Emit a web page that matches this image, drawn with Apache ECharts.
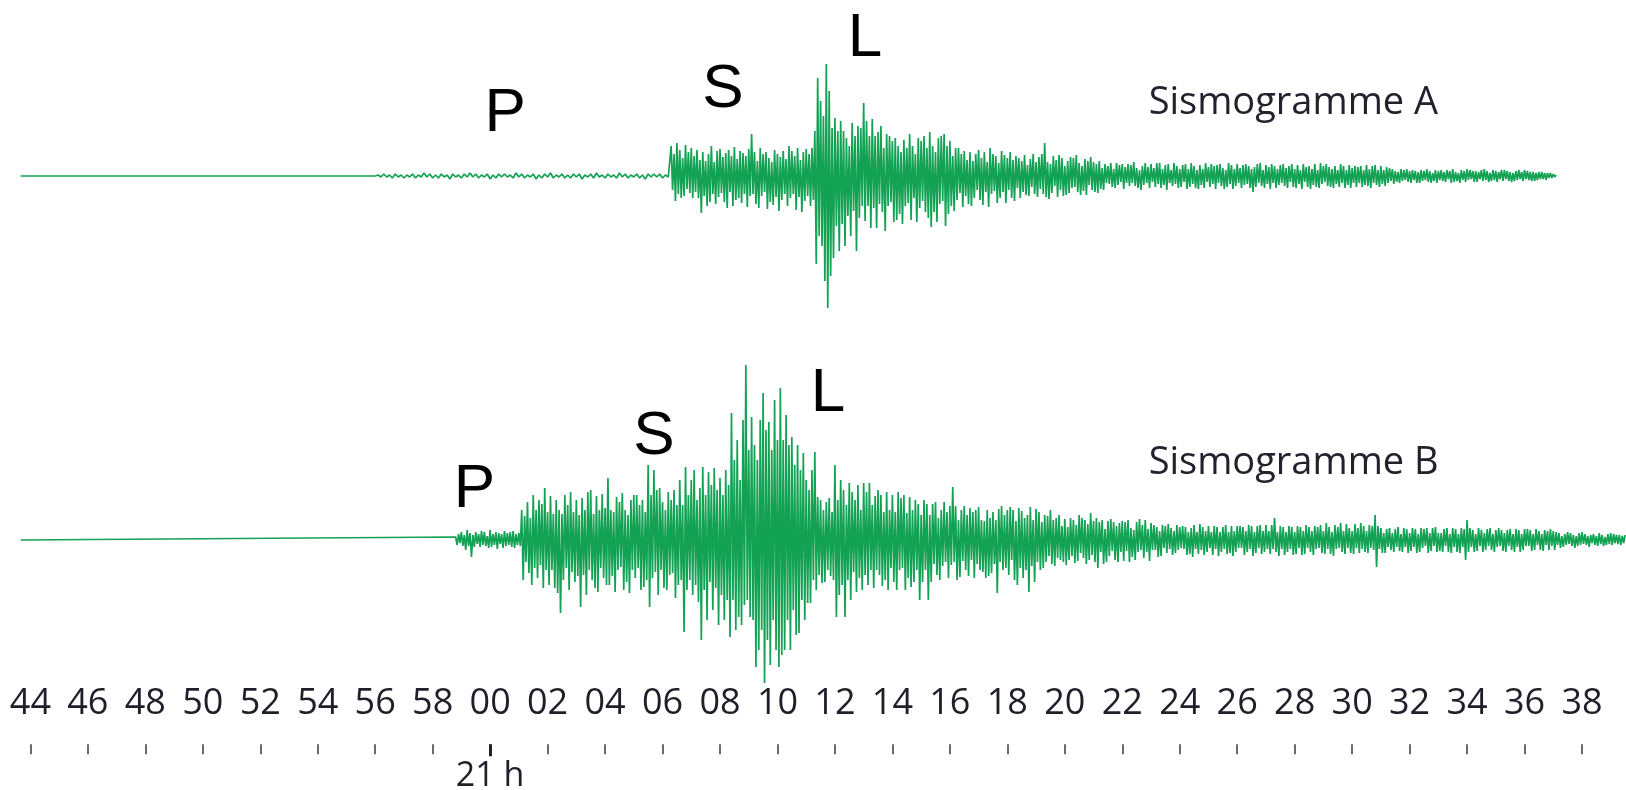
<!DOCTYPE html>
<html>
<head>
<meta charset="utf-8">
<script src="https://cdn.jsdelivr.net/npm/echarts@6/dist/echarts.min.js"></script>
<style>
html,body{margin:0;padding:0;background:#fff;}
#chart{width:1626px;height:790px;}
</style>
</head>
<body>
<div id="chart"></div>
<script>
// ---------- DATA (time in minutes after 20:00; 60 = 21 h 00) ----------
const tickStart = 44, tickEnd = 98, tickStep = 2;        // axis ticks 44 ... 38
const viewStart = 43.5, viewEnd = 99.5;                   // visible time span of the traces
const traceStart = 43.66;                                 // both traces start flat here

// Sismogramme A
const aNoiseStart = 56.0, aNoiseStep = 0.1;               // faint P arrival noise
const aNoise = [
  0,1,-1,2,-1,1,-2,2,-1,1,
  -2,1,-1,2,-2,1,-1,3,-1,2,
  -2,1,-2,2,-1,1,-3,2,-1,1,
  -2,2,-1,3,-1,2,-2,1,-1,2,
  -3,1,-2,2,-1,2,-1,1,-2,3,
  -1,2,-2,1,-1,2,-3,1,-2,2,
  -1,3,-2,1,-1,2,-2,1,-2,2,
  -1,2,-3,1,-1,2,-2,3,-1,1,
  -2,2,-1,1,-2,3,-1,2,-2,1,
  -1,2,-2,1,-3,2,-1,2,-1,2,
  -2,1,-1
];
const aBurstStart = 66.3, aBurstStep = 0.05;              // S and L waves
const aBurst = [
  30,-14,22,-25,33,-18,26,-22,18,-20,31,-13,24,-17,28,-22,20,-16,26,-22,
  16,-37,24,-20,15,-30,22,-26,30,-18,14,-28,25,-21,27,-17,19,-26,23,-32,
  26,-16,20,-30,29,-24,17,-22,25,-27,23,-18,20,-31,27,-20,42,-18,24,-28,
  15,-32,28,-20,22,-16,24,-33,18,-26,14,-29,26,-21,22,-35,19,-24,25,-18,
  17,-30,30,-22,25,-18,20,-34,28,-21,16,-36,24,-25,27,-20,22,-30,28,-24,
  45,-88,98,-60,75,-70,60,-105,112,-132,85,-100,48,-82,58,-50,45,-75,55,-48,
  45,-70,38,-40,30,-60,53,-35,40,-75,50,-42,48,-30,73,-45,55,-30,40,-52,
  57,-32,40,-52,44,-28,50,-36,28,-55,42,-30,40,-26,35,-46,38,-44,30,-38,
  24,-48,36,-30,28,-27,42,-44,30,-22,22,-46,38,-32,35,-25,40,-36,28,-42,
  44,-51,30,-36,24,-46,38,-28,40,-25,42,-50,30,-38,35,-30,20,-35,28,-24,
  28,-17,22,-31,25,-20,16,-28,24,-30,15,-22,22,-14,26,-24,18,-29,24,-16,
  14,-31,28,-18,22,-15,20,-27,13,-22,25,-16,21,-27,18,-14,24,-22,16,-25,
  20,-12,18,-22,15,-16,21,-19,11,-20,17,-11,22,-18,14,-21,19,-13,22,-18,
  33,-21,14,-23,12,-17,20,-10,16,-21,21,-14,18,-20,10,-19,15,-17,19,-12,
  18,-11,21,-16,13,-19,10,-15,17,-19,15,-9,19,-14,14,-16,12,-17,15,-13
];
const aTailStart = 81.3, aTailStep = 0.05;                // coda
const aTail = [
  8,-14,12,-7,10,-8,13,-11,7,-12,13,-9,11,-6,12,-13,9,-7,12,-10,
  11,-7,14,-10,8,-12,6,-14,10,-9,13,-7,9,-12,12,-6,8,-11,13,-8,
  13,-12,7,-9,11,-14,12,-7,6,-10,13,-8,10,-12,7,-11,11,-6,12,-13,
  7,-11,13,-8,10,-12,6,-13,11,-9,7,-12,13,-6,9,-11,12,-8,10,-13,
  11,-7,12,-10,8,-13,6,-11,13,-8,11,-13,7,-10,12,-7,8,-12,11,-9,
  12,-8,10,-12,7,-16,9,-11,12,-7,13,-10,6,-12,11,-8,9,-13,12,-7,
  10,-12,7,-9,11,-7,12,-10,8,-12,10,-6,12,-11,7,-12,11,-8,6,-13,
  12,-6,9,-11,10,-13,7,-9,12,-11,6,-12,13,-8,10,-6,12,-10,9,-11,
  7,-12,10,-8,6,-11,12,-7,10,-12,6,-9,11,-12,8,-7,10,-11,9,-7,
  10,-11,6,-9,11,-10,7,-12,10,-7,11,-9,6,-11,10,-8,6,-10,9,-7,
  8,-5,7,-8,5,-6,4,-7,7,-5,6,-4,7,-6,5,-7,6,-4,5,-7,
  4,-7,6,-5,5,-4,7,-6,5,-7,3,-5,6,-7,5,-4,6,-5,4,-6,
  6,-3,5,-7,7,-6,4,-5,3,-7,6,-4,5,-6,7,-4,6,-3,5,-6,
  5,-6,4,-3,6,-5,7,-4,5,-6,3,-5,6,-4,5,-6,4,-3,6,-5,
  6,-3,5,-5,4,-6,3,-5,5,-4,6,-3,4,-5,6,-3,5,-4,4,-5,
  4,-5,3,-4,4,-3,4,-3,3,-4,3,-2,3,-2,2,-1,1
];

// Sismogramme B
const bNoiseStart = 58.8, bNoiseStep = 0.05;              // P arrival
const bNoise = [
  3,-5,6,-3,8,-6,5,-10,10,-6,7,-17,5,-7,8,-4,6,-7,9,-5,
  8,-6,4,-8,10,-7,6,-5,8,-9,7,-4,6,-8,9,-6,7,-5,8,-7,
  9,-8,6,-5,7,-6
];
const bBurstStart = 61.1, bBurstStep = 0.05;              // S and L waves
const bBurst = [
  30,-40,24,-22,38,-33,22,-45,45,-28,30,-38,40,-25,36,-48,52,-30,28,-45,
  44,-30,26,-48,40,-53,30,-73,26,-40,45,-28,35,-50,48,-32,28,-42,40,-36,
  25,-67,42,-35,30,-55,48,-30,50,-40,26,-48,44,-52,30,-28,46,-38,32,-45,
  62,-45,30,-36,28,-52,43,-30,38,-27,47,-50,30,-42,25,-53,40,-30,45,-38,
  45,-28,35,-50,40,-47,28,-40,75,-67,45,-38,70,-32,50,-55,52,-30,38,-48,
  30,-50,48,-35,40,-33,50,-58,35,-45,60,-40,35,-92,73,-50,45,-40,60,-55,
  70,-45,40,-62,52,-100,73,-50,45,-80,68,-42,55,-70,72,-48,50,-85,62,-55,
  45,-80,70,-60,55,-97,127,-60,80,-90,100,-77,60,-85,120,-65,175,-60,90,-77,
  123,-80,95,-127,80,-110,120,-90,147,-143,110,-100,118,-125,90,-80,140,-110,100,-127,
  152,-115,100,-110,125,-80,95,-110,103,-70,75,-95,95,-93,70,-60,87,-80,60,-63,
  50,-63,70,-40,88,-50,43,-35,40,-43,30,-42,38,-30,42,-36,28,-40,75,-77,
  40,-55,60,-45,50,-77,35,-40,57,-60,48,-32,40,-52,55,-38,30,-50,57,-35,
  48,-45,57,-30,35,-48,44,-30,50,-35,45,-46,28,-40,48,-50,30,-28,45,-42,
  28,-50,48,-30,42,-28,45,-50,27,-38,43,-47,30,-42,40,-30,36,-60,25,-42,
  40,-30,36,-60,25,-42,36,-24,38,-35,22,-40,30,-26,38,-22,28,-38,34,-25,
  53,-22,34,-40,20,-37,30,-21,34,-30,25,-36,32,-20,28,-38,30,-24,33,-30,
  20,-32,19,-38,30,-36,22,-33,28,-24,20,-53,31,-22,34,-30,25,-28,30,-35,
  33,-20,30,-40,19,-45,32,-28,29,-38,22,-30,25,-52,33,-26,20,-42,31,-22,
  28,-30,18,-28,25,-22,24,-16,30,-24,20,-26,22,-18,25,-20,14,-22,21,-25,
  13,-20,22,-16,20,-23,15,-21,25,-13,22,-18,20,-24,16,-20,27,-15,19,-22,
  22,-28,18,-12,20,-24,11,-22,19,-16,21,-11,18,-20,14,-22,17,-12,19,-21
];
const bTailStart = 82.1, bTailStep = 0.05;                // coda
const bTail = [
  18,-11,20,-22,12,-17,10,-20,18,-12,21,-10,15,-18,20,-12,11,-21,17,-10,
  15,-10,13,-17,9,-16,15,-8,14,-13,16,-9,12,-15,9,-13,15,-10,13,-8,
  14,-9,13,-15,8,-14,12,-17,15,-9,8,-14,16,-10,13,-15,9,-12,14,-8,
  8,-15,14,-9,13,-16,8,-12,13,-9,15,-14,8,-13,14,-16,9,-12,14,-8,
  14,-8,13,-15,9,-12,15,-9,14,-16,8,-13,14,-8,15,-14,9,-12,15,-9,
  9,-14,15,-9,22,-12,8,-16,14,-9,13,-15,8,-12,14,-9,13,-15,8,-14,
  14,-8,13,-15,9,-14,15,-8,13,-12,9,-15,14,-9,13,-8,15,-13,9,-14,
  17,-9,13,-14,8,-16,15,-9,13,-8,17,-12,9,-14,16,-8,12,-13,9,-14,
  16,-8,12,-13,17,-9,14,-12,9,-13,15,-8,14,-10,25,-27,14,-9,12,-13,
  7,-13,11,-7,12,-10,7,-12,11,-7,13,-11,6,-12,12,-7,11,-13,7,-11,
  12,-7,11,-13,6,-12,12,-8,11,-6,12,-13,7,-11,12,-6,13,-12,7,-11,
  7,-12,11,-6,12,-12,6,-13,12,-7,11,-12,6,-13,12,-7,11,-20,20,-12,
  12,-7,10,-12,6,-11,12,-6,10,-12,7,-10,11,-6,12,-10,6,-12,10,-7,
  12,-6,10,-11,7,-12,10,-6,11,-10,6,-12,11,-7,10,-12,6,-10,11,-6,
  11,-6,10,-11,6,-10,11,-5,9,-10,6,-11,10,-5,9,-10,11,-6,9,-10,
  8,-5,7,-8,4,-7,6,-5,8,-4,7,-6,5,-8,4,-6,7,-5,8,-4,
  6,-5,4,-7,5,-3,6,-5,4,-6,7,-4,5,-6,3,-5,6,-4,7,-5,
  6,-3,5,-4,5,-5,4,-3,5
];

// phase annotations [label, minute, amplitude]
const phasesA = [['P', 60.52, 62], ['S', 68.1, 86], ['L', 73.05, 137]];
const phasesB = [['P', 59.45, 50], ['S', 65.7, 103], ['L', 71.76, 146]];
const titleA = ['Sismogramme A', 82.9, 73];
const titleB = ['Sismogramme B', 82.9, 77];
const hourMark = 60, hourLabel = '21 h';

// ---------- BUILD ----------
function seg(start, step, vals) {
  return vals.map((v, i) => [+(start + i * step).toFixed(3), v]);
}
const dataA = [[traceStart, 0]].concat(
  seg(aNoiseStart, aNoiseStep, aNoise), seg(aBurstStart, aBurstStep, aBurst), seg(aTailStart, aTailStep, aTail));
const dataB = [[traceStart, 0]].concat(
  seg(bNoiseStart, bNoiseStep, bNoise), seg(bBurstStart, bBurstStep, bBurst), seg(bTailStart, bTailStep, bTail));

const GREEN = '#13a253';
const FONT = '"Open Sans", sans-serif';
const pad = v => { const m = ((v % 60) + 60) % 60; return (m < 10 ? '0' : '') + m; };

function marks(phases, title) {
  const d = phases.map(p => ({
    coord: [p[1], p[2]], symbol: 'circle', symbolSize: 1,
    itemStyle: { color: 'rgba(0,0,0,0)' },
    label: { show: true, position: 'inside', formatter: p[0], fontSize: 62,
             fontFamily: '"Liberation Sans", Arial, sans-serif', color: '#000' }
  }));
  d.push({
    coord: [title[1], title[2]], symbol: 'circle', symbolSize: 1,
    itemStyle: { color: 'rgba(0,0,0,0)' },
    label: { show: true, position: 'right', distance: 0, formatter: title[0], fontSize: 38,
             fontFamily: FONT, color: '#22222c' }
  });
  return { silent: true, animation: false, data: d };
}

const lineStyle = { color: GREEN, width: 1.7, opacity: 1, join: 'bevel' };

// pixel layout of the tick axis: 44 at x=30.4, 38 (=98) at x=1582
const axisLeft = 30.4, axisRight = 44;
const pxPerMin = (1626 - axisLeft - axisRight) / (tickEnd - tickStart);
const dataLeft = axisLeft - (tickStart - viewStart) * pxPerMin;
const dataRight = axisRight - (viewEnd - tickEnd) * pxPerMin;

const option = {
  animation: false,
  backgroundColor: '#fff',
  grid: [
    { left: dataLeft, right: dataRight, top: 16, height: 320 },
    { left: dataLeft, right: dataRight, top: 340, height: 400 },
    { left: axisLeft, right: axisRight, top: 744, height: 1 }
  ],
  xAxis: [
    { gridIndex: 0, type: 'value', min: viewStart, max: viewEnd, show: false },
    { gridIndex: 1, type: 'value', min: viewStart, max: viewEnd, show: false },
    { gridIndex: 2, type: 'value', min: tickStart, max: tickEnd, interval: tickStep, position: 'top',
      axisLine: { show: false }, splitLine: { show: false },
      axisTick: { show: true, inside: true, length: 10, lineStyle: { color: '#6a6a70', width: 2 } },
      axisLabel: { margin: 22, formatter: v => pad(v), fontSize: 36, fontFamily: FONT, color: '#1f1f2a',
                   showMinLabel: true, showMaxLabel: true } },
    { gridIndex: 2, type: 'value', min: tickStart, max: tickEnd, position: 'bottom',
      axisLine: { show: false }, splitLine: { show: false },
      axisTick: { show: true, customValues: [hourMark], length: 12, lineStyle: { color: '#222', width: 3 } },
      axisLabel: { customValues: [hourMark], formatter: () => hourLabel, margin: 15, fontSize: 34,
                   fontFamily: FONT, color: '#1f1f2a' } }
  ],
  yAxis: [
    { gridIndex: 0, type: 'value', min: -160, max: 160, show: false },
    { gridIndex: 1, type: 'value', min: -200, max: 200, show: false },
    { gridIndex: 2, type: 'value', min: 0, max: 1, show: false }
  ],
  series: [
    { type: 'line', xAxisIndex: 0, yAxisIndex: 0, data: dataA, showSymbol: false, symbol: 'none',
      clip: false, silent: true, lineStyle, markPoint: marks(phasesA, titleA) },
    { type: 'line', xAxisIndex: 1, yAxisIndex: 1, data: dataB, showSymbol: false, symbol: 'none',
      clip: false, silent: true, lineStyle, markPoint: marks(phasesB, titleB) }
  ]
};

const chart = echarts.init(document.getElementById('chart'), null, { renderer: 'canvas' });
chart.setOption(option);
</script>
</body>
</html>
